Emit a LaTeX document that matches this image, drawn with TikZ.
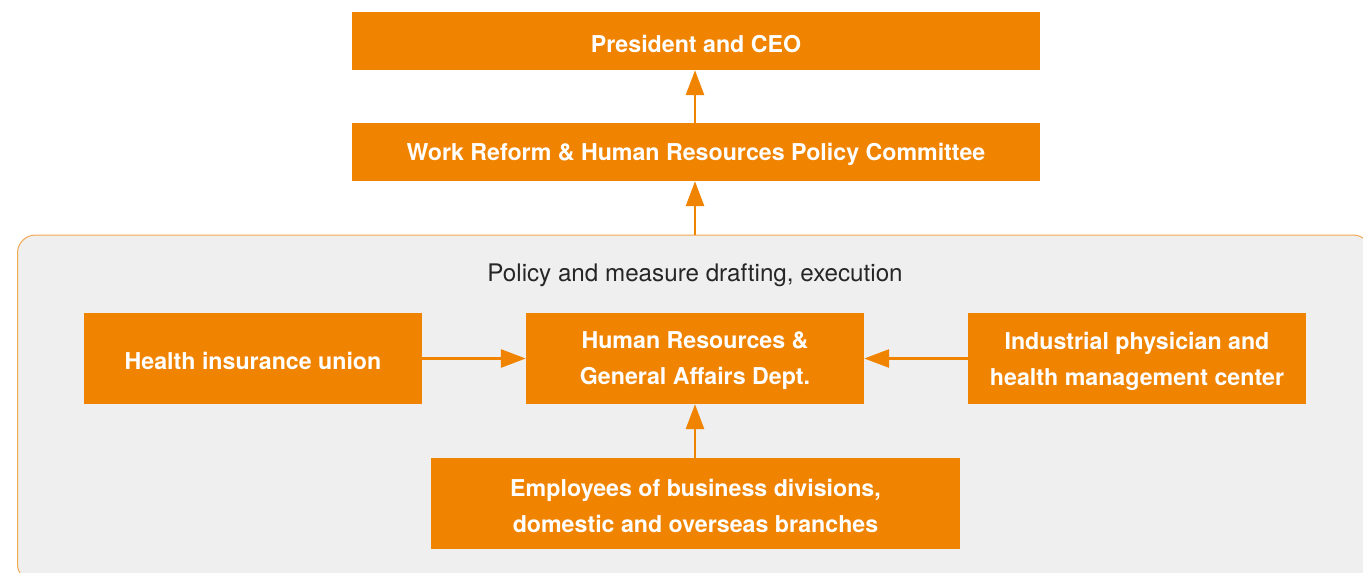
\documentclass[tikz,border=0pt]{standalone}
\usepackage{fontspec}
\setmainfont{TeX Gyre Heros}
\usetikzlibrary{arrows.meta}
\definecolor{org}{HTML}{F08300}
\definecolor{panel}{HTML}{EFEFEF}
\definecolor{panelline}{HTML}{F4A850}
\begin{document}
\begin{tikzpicture}[x=1pt,y=-1pt,
  box/.style={fill=org,inner sep=0pt},
  lbl/.style={text=white,inner sep=0pt,align=center,yshift=-2.5pt,font=\fontsize{23.2}{36}\selectfont\bfseries},
  arr/.style={draw=org,line width=2.8pt,-{Triangle[length=25pt,width=18pt]}}]
\useasboundingbox (0,0) rectangle (1363,573);
\begin{scope}
\clip (0,0) rectangle (1363,573);
\draw[fill=panel,draw=panelline,line width=1pt,rounded corners=18pt] (17.5,235) rectangle (1371,582);
\end{scope}
\coordinate (ptop) at (695,235);
\node[font=\fontsize{24.2}{28}\selectfont,text=black!85] (title) at (695,275) {Policy and measure drafting, execution};
\node[box,minimum width=688pt,minimum height=58pt,label={[lbl]center:President and CEO}] (ceo) at (696,41) {};
\node[box,minimum width=688pt,minimum height=58pt,label={[lbl]center:Work Reform \& Human Resources Policy Committee}] (wr) at (696,152) {};
\node[box,minimum width=338pt,minimum height=91pt,label={[lbl]center:{Human Resources \&\\General Affairs Dept.}}] (hr) at (695,358.5) {};
\node[box,minimum width=338pt,minimum height=91pt,label={[lbl]center:Health insurance union}] (hi) at (253,358.5) {};
\node[box,minimum width=338pt,minimum height=91pt,label={[lbl]center:{Industrial physician and\\health management center}}] (ip) at (1137,358.5) {};
\node[box,minimum width=529pt,minimum height=91pt,label={[lbl]center:{Employees of business divisions,\\domestic and overseas branches}}] (emp) at (695.5,503.5) {};
\draw[arr] (wr.north -| 695,0) -- (ceo.south -| 695,0);
\draw[arr] (ptop) -- (wr.south -| ptop);
\draw[arr] (hi.east) -- (hr.west);
\draw[arr] (ip.west) -- (hr.east);
\draw[arr] (emp.north -| 695,0) -- (hr.south -| 695,0);
\end{tikzpicture}
\end{document}
